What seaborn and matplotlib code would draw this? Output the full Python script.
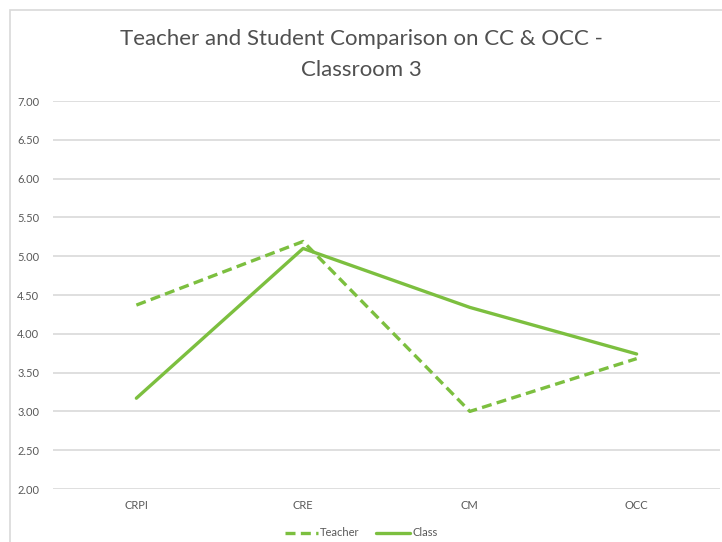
import matplotlib
matplotlib.use("Agg")
import matplotlib.pyplot as plt
import seaborn as sns
import pandas as pd
from matplotlib.patches import Rectangle
from matplotlib.lines import Line2D

categories = ["CRPI", "CRE", "CM", "OCC"]
teacher = [4.37, 5.19, 3.00, 3.68]
class_vals = [3.17, 5.10, 4.34, 3.74]
series_names = ["Teacher", "Class"]
yticks = [2.0, 2.5, 3.0, 3.5, 4.0, 4.5, 5.0, 5.5, 6.0, 6.5, 7.0]

df = pd.DataFrame({
    "cat": categories * 2,
    "val": teacher + class_vals,
    "series": [series_names[0]] * 4 + [series_names[1]] * 4,
})

sns.set_theme(style="white")
plt.rcParams["font.family"] = ["Lato", "DejaVu Sans"]

green = "#7CBF3F"
fig = plt.figure(figsize=(7.22, 5.42), dpi=100)
ax = fig.add_axes([53/722, 1 - 489/542, (720-53)/722, (489-101)/542])

sns.lineplot(data=df, x="cat", y="val", style="series",
             style_order=series_names,
             dashes={"Teacher": (3, 1.6), "Class": ""},
             color=green, linewidth=2.4, sort=False, ax=ax, legend=False)

ax.set_xlim(-0.5, 3.5)
ax.set_ylim(2.0, 7.0)
ax.set_yticks(yticks)
ax.set_yticklabels([f"{v:.2f}" for v in yticks])
ax.grid(axis="y", color="#d9d9d9", linewidth=1.2)
ax.set_axisbelow(True)
for s in ax.spines.values():
    s.set_visible(False)
ax.tick_params(axis="both", length=0, labelsize=8, colors="#595959")
ax.tick_params(axis="y", pad=10)
ax.tick_params(axis="x", pad=8)
ax.set_xlabel("")
ax.set_ylabel("")

fig.text(0.5, 1 - 39/542, "Teacher and Student Comparison on CC & OCC -",
         ha="center", va="center", fontsize=16, color="#505050")
fig.text(0.5, 1 - 70/542, "Classroom 3",
         ha="center", va="center", fontsize=16, color="#505050")

handles = [Line2D([], [], color=green, lw=2.4, dashes=(3, 1.6)),
           Line2D([], [], color=green, lw=2.4)]
fig.legend(handles, series_names, loc="center", bbox_to_anchor=(0.5, 1 - 533/542),
           ncol=2, frameon=False, fontsize=8, labelcolor="#595959",
           handlelength=3.0, handletextpad=0.2, columnspacing=1.5)

fig.patches.append(Rectangle((10/722, -0.05), 1.0, 1 - 10/542 + 0.05,
                             transform=fig.transFigure, fill=False,
                             edgecolor="#d9d9d9", linewidth=1.2))

fig.savefig("out.png", dpi=100)
